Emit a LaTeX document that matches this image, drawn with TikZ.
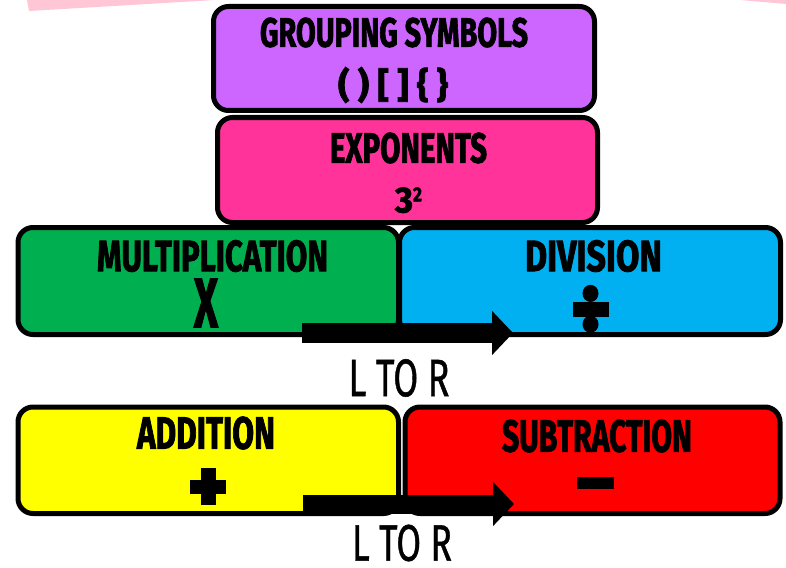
\documentclass[tikz,border=0pt]{standalone}
\usepackage{fontspec}
\usepackage{graphicx}
\usetikzlibrary{arrows.meta}
\newfontfamily\kgfont{Fira Sans}[FakeBold=2.2]
\newfontfamily\lrfont{Fira Sans}[FakeBold=1]
\definecolor{cpurple}{HTML}{CC66FF}
\definecolor{cpink}{HTML}{FF3399}
\definecolor{cgreen}{HTML}{00B050}
\definecolor{cblue}{HTML}{00B0F0}
\definecolor{cyellow}{HTML}{FFFF00}
\definecolor{cred}{HTML}{FF0000}
\definecolor{lpink}{HTML}{FFC6D6}
\newcommand{\fitb}[3]{\resizebox{#1pt}{#2pt}{\kgfont\bfseries #3}}
\newcommand{\fitr}[3]{\resizebox{#1pt}{#2pt}{\lrfont #3}}
\newcommand{\fitd}[3]{\resizebox*{#1pt}{#2pt}{\kgfont\bfseries #3}}
\begin{document}
\begin{tikzpicture}[x=1pt,y=-1pt,
  box/.style={draw=black,line width=5pt,rounded corners=15pt,inner sep=0pt,outer sep=0pt},
  lbl/.style={inner sep=0pt,outer sep=0pt},
  symb/.style={fill=black,draw=none},
  bigarrow/.style={line width=20.5pt,-{Triangle[length=21pt,width=43pt]}}]
\useasboundingbox (0,0) rectangle (786,567);
\fill[lpink] (27,0) -- (29,11) -- (215,0) -- cycle;
\fill[lpink] (740,0) -- (786,4) -- (786,0) -- cycle;
% boxes
\node[box,fill=cpurple,minimum width=381pt,minimum height=104pt] (grp) at (404,58.5) {};
\node[box,fill=cpink,minimum width=380pt,minimum height=105pt] (exp) at (407.5,170) {};
\node[box,fill=cgreen,minimum width=380.5pt,minimum height=107pt] (mul) at (208.25,281) {};
\node[box,fill=cblue,minimum width=381pt,minimum height=107pt] (div) at (590,281) {};
\node[box,fill=cyellow,minimum width=380.5pt,minimum height=106.5pt] (add) at (208.25,460.25) {};
\node[box,fill=cred,minimum width=375pt,minimum height=106.5pt] (sub) at (592.5,460.25) {};
% texts
\node[lbl] (tgrp) at (394,32.5) {\fitb{268}{29}{GROUPING SYMBOLS}};
\node[lbl] (tbr) at (393,85) {\fitd{110}{36}{( ) [ ] \{ \}}};
\node[lbl] (texp) at (408.5,148) {\fitb{157}{30}{EXPONENTS}};
\node[lbl,anchor=south west] (tpow) at (395,213) {\fitb{18}{25}{3}\raisebox{11pt}{\fitb{9}{14}{2}}};
\node[lbl] (tmul) at (212.5,256) {\fitb{231}{31}{MULTIPLICATION}};
\node[lbl] (tx) at (206,303) {\fitb{24}{48}{X}};
\node[lbl] (tdiv) at (593.5,256) {\fitb{137}{31}{DIVISION}};
\node[lbl] (tlr1) at (399,378) {\fitr{101}{37}{L TO R}};
\node[lbl] (tadd) at (206,433) {\fitb{138}{32}{ADDITION}};
\node[lbl] (tsub) at (597,436) {\fitb{190}{32}{SUBTRACTION}};
\node[lbl] (tlr2) at (402,543) {\fitr{100}{36}{L TO R}};
% symbols
\fill[symb] (572.5,301.7) rectangle (609,316.7);
\fill[symb] (590.5,293.4) ellipse [x radius=8pt, y radius=8.6pt];
\fill[symb] (590.5,324.2) ellipse [x radius=8pt, y radius=8.6pt];
\fill[symb] (201,468) rectangle (216,505);
\fill[symb] (190,480) rectangle (226,494);
\fill[symb] (577,477) rectangle (614,488.5);
% arrows
\coordinate (a1s) at (302,333);
\coordinate (a1e) at (513,333);
\coordinate (a2s) at (303,504);
\coordinate (a2e) at (514,504);
\draw[bigarrow] (a1s) -- (a1e);
\draw[bigarrow,line width=19pt] (a2s) -- (a2e);
\end{tikzpicture}
\end{document}
